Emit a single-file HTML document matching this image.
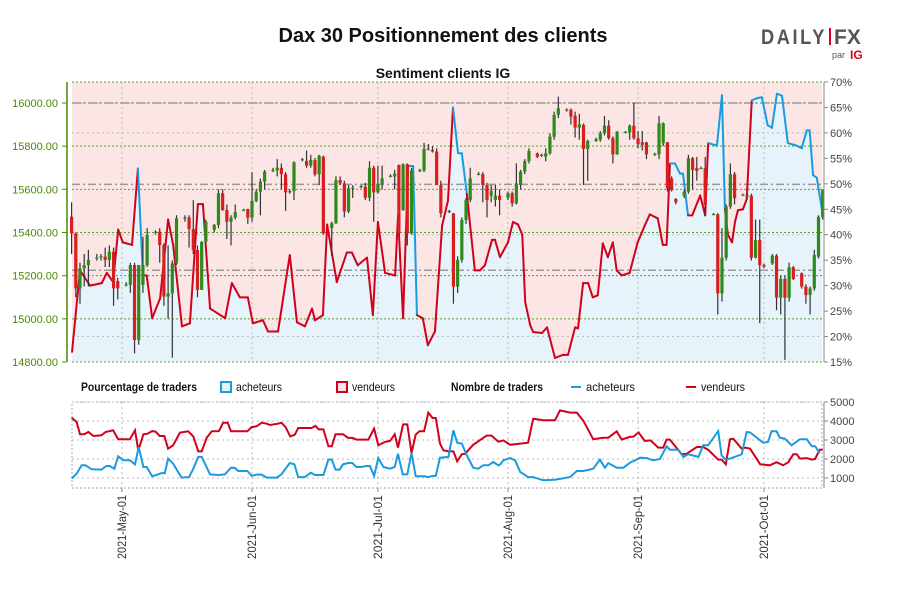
<!DOCTYPE html>
<html><head><meta charset="utf-8"><style>
body{margin:0;background:#fff;}
svg text{font-family:"Liberation Sans",sans-serif;}
</style></head><body>
<svg id="c" width="900" height="600" viewBox="0 0 900 600" xmlns="http://www.w3.org/2000/svg">
<rect width="900" height="600" fill="#fff"/>
<text x="443" y="42" text-anchor="middle" font-size="20" font-weight="bold" fill="#111">Dax 30 Positionnement des clients</text>
<text x="443" y="78" text-anchor="middle" font-size="14" font-weight="bold" fill="#111">Sentiment clients IG</text>
<g>
<text x="761" y="44" font-size="21" font-weight="bold" fill="#555" letter-spacing="3" textLength="66" lengthAdjust="spacingAndGlyphs">DAILY</text>
<rect x="829" y="28" width="2" height="17" fill="#d8001a"/>
<text x="834" y="44" font-size="21" font-weight="bold" fill="#555">FX</text>
<text x="832" y="58" font-size="9" fill="#555">par</text>
<text x="850" y="59" font-size="12" font-weight="bold" fill="#d8001a">IG</text>
</g>
<g id="main"></g>
<g id="lower"></g>
<g>
<text x="81" y="391" font-size="12" font-weight="bold" fill="#111" textLength="116" lengthAdjust="spacingAndGlyphs">Pourcentage de traders</text>
<rect x="221" y="382" width="10" height="10" fill="#e6f3fb" stroke="#1a9be0" stroke-width="2"/>
<text x="236" y="391" font-size="12" fill="#111" textLength="46" lengthAdjust="spacingAndGlyphs">acheteurs</text>
<rect x="337" y="382" width="10" height="10" fill="#fbe5e5" stroke="#d0021b" stroke-width="2"/>
<text x="352" y="391" font-size="12" fill="#111" textLength="43" lengthAdjust="spacingAndGlyphs">vendeurs</text>
<text x="451" y="391" font-size="12" font-weight="bold" fill="#111" textLength="92" lengthAdjust="spacingAndGlyphs">Nombre de traders</text>
<line x1="571" y1="387" x2="581" y2="387" stroke="#1a9be0" stroke-width="2"/>
<text x="586" y="391" font-size="12" fill="#111" textLength="49" lengthAdjust="spacingAndGlyphs">acheteurs</text>
<line x1="686" y1="387" x2="696" y2="387" stroke="#d0021b" stroke-width="2"/>
<text x="701" y="391" font-size="12" fill="#111" textLength="44" lengthAdjust="spacingAndGlyphs">vendeurs</text>
</g>
</svg>
<script>
const priceTicks=[14800,15000,15200,15400,15600,15800,16000];
const pctTicks=[15,20,25,30,35,40,45,50,55,60,65,70];
const countTicks=[1000,2000,3000,4000,5000];
const monthDays=[12,43,73,104,135,165];
const monthLabels=["2021-May-01","2021-Jun-01","2021-Jul-01","2021-Aug-01","2021-Sep-01","2021-Oct-01"];
const levels=[16000,15623,15225];
const sentDays=[0.1,2,4.4,7.2,8.4,9.9,11.1,12.2,14.4,15.8,
17,17.9,19.2,21.1,23,24.2,26.3,28.2,30.1,31.3,
33,36.6,38.2,40.1,42,43.2,45.6,46.8,49.2,52,
53.7,55.6,57.3,58,59.9,60.9,63.2,65.6,66.8,68.2,
70.4,71.8,73,74.7,77.1,77.8,79,80.2,81.4,82.3,
83.7,84.9,86.6,88.3,89.7,90.9,92.1,93,94.2,96.1,
97.3,98.5,100.2,100.9,102.1,104,105.2,106.4,107.4,108.1,
109.3,110,112.1,113.3,115.2,117.1,118.3,120,120.7,121.9,
123.1,124.2,125.4,126.6,127.8,129,129.9,131.1,133,134.9,
136.6,137.8,139.7,140.9,141.8,142.6,143.8,145,145.7,146.9,
147.9,149.8,151,151.7,153.8,155,155.7,156.4,157.4,158.1,
158.8,160,160.9,162.1,163.3,164.5,165.9,166.9,168.1,169.3,
170.7,172.8,174,175.2,175.9,176.7,177.6,178.8];
const sentLong=[17,33,30,30.5,32.5,30.7,41,38.5,38,53,
32,32,23.6,27.5,43,38,22,22.6,46,46,
25.5,23.6,30.5,27.7,27.7,22.6,23.2,21,21,36,
22.8,22,25.5,23.2,24.2,42,30.7,36.5,36.5,34,
35.5,24.2,42.5,32.5,32,43.8,23.6,53.5,53.5,24.2,
23.6,18.3,21,41.8,46.7,65,56,56,48,33,
33,34,39,39,35.6,38.5,42.5,42,40,26.8,
22.2,20.9,20.7,21.8,15.8,16.4,16.4,21.8,21.6,30.5,
30.5,27.7,28.1,38.3,35.6,38.5,33,32,32.5,38.5,
41.8,44,43.2,38,38,54,54,52,52,43.8,
43.8,47.7,43.8,58,57.5,67.4,45,40,38.5,42.5,
44.8,45,47,66.4,66.8,67,61.5,61,67.7,67.3,
58,57.5,57,60.5,60.5,51.7,51.2,45];
const candles=[[0,15473,15396,15540,15300],[1,15396,15141,15400,15100],[2,15141,15234,15260,15070],[3,15234,15249,15300,15150],[4,15249,15273,15320,15150],[6,15285,15285,15300,15270],[7,15285,15290,15300,15270],[8,15288,15273,15330,15240],[9,15273,15311,15340,15240],[10,15311,15141,15330,15060],[11,15175,15141,15190,15090],[13,15157,15160,15170,15150],[14,15157,15249,15260,15120],[15,15249,14902,15260,14840],[16,14902,15249,15250,14880],[17,15157,15249,15380,15120],[18,15249,15389,15420,15240],[20,15400,15404,15410,15390],[21,15404,15342,15420,15260],[22,15342,15103,15350,15060],[23,15103,15118,15340,15000],[24,15118,15257,15270,14820],[25,15257,15466,15480,15250],[27,15466,15470,15480,15450],[28,15470,15416,15480,15330],[29,15416,15319,15550,15300],[30,15319,15134,15340,15100],[31,15134,15357,15360,15180],[32,15357,15450,15460,15350],[34,15412,15435,15440,15400],[35,15435,15582,15600,15420],[36,15582,15504,15600,15500],[37,15504,15450,15530,15370],[38,15450,15469,15480,15340],[39,15469,15494,15530,15460],[41,15504,15505,15510,15500],[42,15509,15469,15510,15440],[43,15469,15546,15680,15450],[44,15546,15589,15600,15540],[45,15589,15636,15650,15480],[46,15636,15682,15690,15600],[48,15688,15690,15700,15680],[49,15688,15700,15740,15660],[50,15700,15670,15720,15600],[51,15670,15586,15680,15500],[52,15586,15592,15600,15580],[53,15592,15725,15730,15550],[55,15739,15740,15745,15730],[56,15731,15710,15780,15700],[57,15710,15736,15760,15700],[58,15736,15670,15745,15660],[59,15670,15756,15760,15620],[60,15751,15396,15756,15390],[62,15420,15443,15450,15290],[63,15443,15643,15660,15440],[64,15643,15628,15660,15620],[65,15628,15497,15640,15470],[66,15497,15605,15620,15490],[67,15605,15607,15620,15560],[69,15612,15614,15620,15605],[70,15612,15561,15630,15550],[71,15561,15700,15730,15545],[72,15700,15586,15710,15450],[73,15586,15623,15710,15580],[74,15623,15651,15710,15600],[76,15662,15663,15670,15655],[77,15659,15673,15690,15600],[78,15713,15396,15715,15390],[79,15504,15716,15720,15500],[80,15716,15396,15720,15340],[81,15396,15687,15700,15390],[83,15687,15689,15695,15680],[84,15687,15787,15815,15680],[85,15787,15789,15810,15780],[86,15782,15775,15800,15770],[87,15775,15620,15790,15620],[88,15620,15489,15640,15470],[90,15500,15496,15505,15490],[91,15489,15149,15490,15070],[92,15149,15273,15290,15120],[93,15273,15458,15470,15260],[94,15458,15551,15560,15440],[95,15551,15651,15700,15540],[97,15670,15672,15680,15665],[98,15670,15620,15680,15540],[99,15620,15551,15630,15470],[100,15571,15592,15620,15540],[101,15551,15571,15620,15520],[102,15571,15551,15600,15480],[104,15561,15582,15590,15550],[105,15582,15535,15590,15520],[106,15535,15628,15720,15530],[107,15620,15682,15690,15600],[108,15682,15731,15740,15670],[109,15731,15778,15790,15720],[111,15767,15751,15770,15745],[112,15759,15760,15765,15750],[113,15751,15767,15790,15730],[114,15767,15844,15860,15760],[115,15844,15945,15960,15830],[116,15945,15976,16030,15930],[118,15968,15970,15975,15960],[119,15968,15937,15975,15900],[120,15941,15886,15960,15840],[121,15886,15901,15950,15830],[122,15898,15787,15905,15620],[123,15787,15824,15830,15640],[125,15824,15833,15840,15820],[126,15830,15860,15870,15820],[127,15860,15895,15940,15850],[128,15895,15837,15920,15830],[129,15837,15762,15845,15720],[130,15762,15867,15870,15760],[132,15864,15866,15870,15860],[133,15864,15895,15900,15830],[134,15895,15837,16000,15830],[135,15837,15809,15870,15790],[136,15818,15806,15870,15780],[137,15818,15762,15820,15740],[139,15762,15764,15770,15755],[140,15762,15906,15940,15740],[141,15813,15906,15910,15800],[142,15818,15605,15820,15590],[143,15651,15597,15660,15590],[144,15555,15540,15560,15530],[146,15571,15589,15600,15560],[147,15589,15744,15760,15580],[148,15744,15690,15750,15600],[149,15698,15685,15750,15640],[150,15698,15699,15705,15695],[151,15698,15528,15750,15480],[153,15484,15486,15490,15480],[154,15484,15118,15490,15020],[155,15118,15283,15420,15080],[156,15283,15520,15530,15270],[157,15520,15670,15720,15510],[158,15670,15559,15680,15530],[160,15574,15576,15580,15570],[161,15566,15574,15580,15560],[162,15571,15283,15580,15270],[163,15283,15365,15460,15280],[164,15365,15249,15460,14980],[165,15249,15242,15255,15235],[167,15257,15293,15300,15250],[168,15293,15098,15300,15040],[169,15098,15185,15200,15020],[170,15185,15098,15200,14810],[171,15098,15239,15260,15080],[172,15239,15185,15245,15180],[174,15211,15149,15215,15140],[175,15149,15110,15160,15070],[176,15110,15141,15150,15020],[177,15141,15296,15320,15130],[178,15288,15473,15480,15280],[179,15473,15597,15600,15460]];
const sellDays=[0,1.2,2,3,4,5.2,7.1,8.1,9.9,11.1,13.9,15.1,15.9,17.1,18.1,19.2,20,21,22.1,23,24.2,25.8,27.8,29,30.2,31,32.2,33.4,35.1,36.1,37.2,38,41.9,42.9,44.1,45.3,46.5,47.3,49.2,50,51,52.1,53.2,54,57.2,58.1,58.9,60,61.2,62,62.9,64.7,65.9,66.9,67.9,70.7,72.1,73.1,74.7,75.9,77,77.8,79,80,81,82,82.9,84,85,86,86.8,87.8,88.6,89.8,91,91.9,93,93.8,95.7,98.9,100.1,101.7,102.9,104.5,106.9,108.8,110,112.4,115.2,116.4,118.8,120.4,122,124.3,126.7,127.9,129.9,131.1,133.1,133.9,135.1,136.6,138,139.8,141,141.8,142.6,145.4,146.6,149,150.5,151.7,154.1,154.9,155.9,156.9,157.7,159.7,160.5,161.7,164.1,166.4,168,169.6,170.8,172,172.8,173.6,175.2,176.4,177.2,178.3,179];
const sellCount=[4180,3950,3300,3300,3420,3210,3250,3420,3510,3040,3040,3510,2460,3300,3330,3470,3440,3210,3210,2540,2720,3390,3460,3190,2400,2400,3120,3460,3470,3910,3910,3460,3460,3680,3720,3910,3860,3790,3860,3910,3680,3190,3280,3630,3630,3740,3560,3560,2670,2670,3300,3300,3110,3110,3020,3020,3600,2720,2900,2950,3300,2600,3820,3820,2320,3280,3460,3460,4440,4160,4160,2810,2460,2400,2400,1880,2250,2280,2750,3230,3230,2910,2980,2750,2810,2860,4120,4040,4040,4560,4440,4440,4000,3040,3120,3120,3460,3020,3170,3170,3400,2950,2980,2600,2600,3020,3020,2250,2280,2630,2630,2490,1970,1970,1720,3040,3070,2540,2600,2540,1720,1670,1830,1670,1830,2250,2250,2020,2050,1970,2000,2490,2490,2950];
const buyDays=[0,1.2,2.4,3.3,4.8,7.1,8.3,9.1,10.2,11.1,12.3,13.9,15.1,16,17.1,17.9,19.2,20.5,21.4,22.2,23,24.2,26.2,28,29,30.2,31,33,35.1,36.5,38,38.9,39.7,41.9,42.9,44.1,45.3,46.5,48.9,50,52,53.1,54,55.6,57,58,60,61.2,62,62.9,63.9,64.7,65.9,66.9,67.9,69.1,70.1,71.1,72.1,73.1,74.3,75.9,77,77.8,78.9,80,81,82,84,85,86,86.8,87.8,89.8,91,91.9,93,94.2,95.7,96.9,98.1,99.3,100.5,101.7,102.1,102.9,104.5,105.7,106.9,108.8,110,112.4,115.2,118.8,120.4,122,124.3,125.9,127.1,127.9,129.9,131.5,133.1,134.3,135.5,137,138.6,140.2,141.8,142.6,144.6,145.8,147,149.4,150.5,151.7,154.1,154.9,155.9,157.3,159.7,160.9,161.7,164.8,166,166.8,168,168.8,170,171.6,173.6,175.2,176.4,177.2,178.3,179];
const buyCount=[970,1230,1670,1670,1460,1440,1630,1630,1490,2140,1930,1930,1720,2630,1580,1580,1090,1180,1260,1260,2020,1760,1020,1050,1490,2110,2110,1190,1160,1190,1540,1530,1370,1370,1110,1180,1180,1020,1020,1190,1790,1720,1050,1050,1280,1160,1160,1970,1970,1440,1440,1720,1790,1790,1580,1580,1630,1630,1110,2050,1580,1490,1580,2280,1190,1190,2320,1090,1090,1050,1110,1110,2070,2110,3510,2860,2810,2190,1540,1490,1670,1670,1840,1670,1700,1930,2050,1930,1320,1050,1050,880,910,1050,1370,1370,1490,1970,1540,1790,1540,1540,1810,1930,2070,2050,1930,2000,2670,2490,2490,2110,2250,2110,2720,2720,3470,2190,1970,2050,2250,3420,3400,2860,2900,3460,3460,3120,3070,2720,3040,3040,2670,2670,2320];

const NS='http://www.w3.org/2000/svg';
const gm=document.getElementById('main');
const gl=document.getElementById('lower');
function mk(tag,attrs,parent){const e=document.createElementNS(NS,tag);for(const k in attrs)e.setAttribute(k,attrs[k]);parent.appendChild(e);return e;}
const X0=71.6,PXD=4.196,L=72,R=822,T=82,B=362,LT=402,LB=488;
function xOf(d){return X0+d*PXD;}
function yP(p){return B-(p-14800)*(B-103)/1200;}
function yPct(v){return B-(v-15)*(B-T)/55;}
function yC(c){return 478-(c-1000)*0.019;}

let line=sentDays.map((d,i)=>xOf(d).toFixed(1)+','+yPct(sentLong[i]).toFixed(1));
const pinkArea=mk('polygon',{points:L+','+T+' '+R+','+T+' '+R+','+yPct(sentLong[sentLong.length-1])+' '+line.slice().reverse().join(' ')+' '+L+','+yPct(sentLong[0]),fill:'#fbe5e5'},gm);


const blueArea=mk('polygon',{points:L+','+B+' '+L+','+yPct(sentLong[0])+' '+line.join(' ')+' '+R+','+yPct(sentLong[sentLong.length-1])+' '+R+','+B,fill:'#e6f3fb'},gm);



pctTicks.forEach(v=>{if(v%20===0){const g=mk('line',{x1:L,x2:R,y1:yPct(v),y2:yPct(v),stroke:'#bbb','stroke-dasharray':'2,3','stroke-width':1},gm);}});
priceTicks.forEach(p=>{const g=mk('line',{x1:L,x2:R,y1:yP(p),y2:yP(p),stroke:'#5aa02c','stroke-dasharray':'2,2','stroke-width':1},gm);});
mk('line',{x1:L,x2:R,y1:T,y2:T,stroke:'#5aa02c','stroke-dasharray':'2,2'},gm);
monthDays.forEach(d=>{const g=mk('line',{x1:xOf(d),x2:xOf(d),y1:T,y2:B,stroke:'#bbb','stroke-dasharray':'2,3'},gm);});
levels.forEach(p=>{const g=mk('line',{x1:L,x2:R,y1:yP(p),y2:yP(p),stroke:'#999','stroke-dasharray':'8,3,2,3','stroke-width':1.5},gm);});

for(let i=1;i<sentDays.length;i++){
 const col=sentLong[i-1]>=50?'#1a9be0':'#d0021b';
 const s=mk('line',{x1:xOf(sentDays[i-1]),y1:yPct(sentLong[i-1]),x2:xOf(sentDays[i]),y2:yPct(sentLong[i]),stroke:col,'stroke-width':2,'stroke-linecap':'round'},gm);
 
 
}
candles.forEach(c=>{
 const [d,o,cl,h,l]=c;const x=xOf(d);
 const w=mk('line',{x1:x,x2:x,y1:yP(h),y2:yP(l),stroke:'#333','stroke-width':1.2},gm);
 
 
 const up=cl>=o;const top=yP(Math.max(o,cl)),bot=yP(Math.min(o,cl));
 const r=mk('rect',{x:x-1.6,y:top,width:3.2,height:Math.max(1.2,bot-top),fill:up?'#2f8a1c':'#d81e1e'},gm);
 
 
});
const la=mk('line',{x1:67,x2:67,y1:T,y2:B,stroke:'#4a8a00','stroke-width':1.5},gm);


priceTicks.forEach(p=>{mk('line',{x1:62,x2:67,y1:yP(p),y2:yP(p),stroke:'#4a8a00'},gm);
 const t=mk('text',{x:58,y:yP(p)+4,'text-anchor':'end','font-size':11,fill:'#4a8a00'},gm);t.textContent=p.toFixed(2);
 });
const ra=mk('line',{x1:824,x2:824,y1:T,y2:B,stroke:'#888'},gm);


pctTicks.forEach(v=>{mk('line',{x1:824,x2:828,y1:yPct(v),y2:yPct(v),stroke:'#888'},gm);
 const t=mk('text',{x:830,y:yPct(v)+4,'font-size':11,fill:'#444'},gm);t.textContent=v+'%';
 });

mk('rect',{x:L,y:LT,width:R-L,height:LB-LT,fill:'none',stroke:'#aaa','stroke-dasharray':'2,2'},gl);
countTicks.forEach(c=>{const g=mk('line',{x1:L,x2:R,y1:yC(c),y2:yC(c),stroke:'#bbb','stroke-dasharray':'2,3'},gl);
 mk('line',{x1:824,x2:828,y1:yC(c),y2:yC(c),stroke:'#888'},gl);
 const t=mk('text',{x:830,y:yC(c)+4,'font-size':11,fill:'#444'},gl);t.textContent=c;
 });
mk('line',{x1:824,x2:824,y1:LT,y2:LB,stroke:'#888'},gl);
monthDays.forEach((d,i)=>{const x=xOf(d);
 mk('line',{x1:x,x2:x,y1:LT,y2:LB,stroke:'#bbb','stroke-dasharray':'2,3'},gl);
 mk('line',{x1:x,x2:x,y1:LB,y2:LB+4,stroke:'#888'},gl);
 const t=mk('text',{x:0,y:0,'font-size':12,fill:'#333','text-anchor':'end',textLength:64,lengthAdjust:'spacingAndGlyphs',transform:'translate('+(x+4)+','+(LB+7)+') rotate(-90)'},gl);t.textContent=monthLabels[i];
 });
const sp=mk('polyline',{points:sellDays.map((d,i)=>xOf(d).toFixed(1)+','+yC(sellCount[i]).toFixed(1)).join(' '),fill:'none',stroke:'#d0021b','stroke-width':2},gl);


const bp=mk('polyline',{points:buyDays.map((d,i)=>xOf(d).toFixed(1)+','+yC(buyCount[i]).toFixed(1)).join(' '),fill:'none',stroke:'#1a9be0','stroke-width':2},gl);


</script>
</body></html>
